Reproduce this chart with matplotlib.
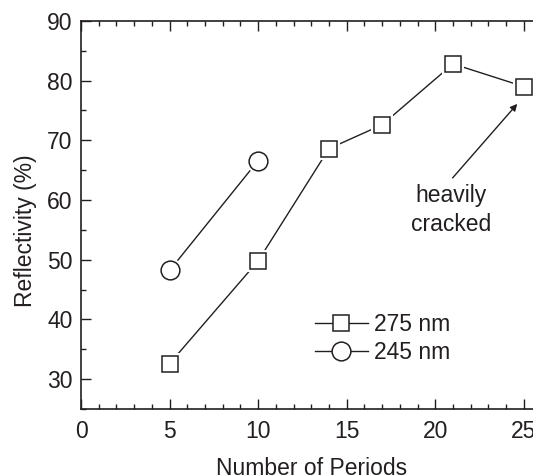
import matplotlib
matplotlib.use("Agg")
import matplotlib.pyplot as plt
from matplotlib.ticker import MultipleLocator

plt.rcParams['font.family'] = ['Liberation Sans', 'DejaVu Sans']

periods_275 = [5, 10, 14, 17, 21, 25]
refl_275 = [32.6, 49.8, 68.6, 72.6, 82.8, 79.0]
periods_245 = [5, 10]
refl_245 = [48.2, 66.6]
label_275 = "275 nm"
label_245 = "245 nm"
annot_text = "heavily\ncracked"

ink = '#231f20'
FS = 16.5
fig = plt.figure(figsize=(5.33, 4.75), dpi=100)
ax = fig.add_axes([0.152, 0.139, 0.864, 0.817])

def series(x, y, marker, ms, label):
    ax.plot(x, y, '-', color=ink, lw=1.0, zorder=1)
    ax.plot(x, y, linestyle='none', marker=marker, ms=ms + 4, mfc='white',
            mec='white', mew=0, zorder=2)
    ax.plot(x, y, linestyle='none', marker=marker, ms=ms, mfc='white',
            mec=ink, mew=1.1, zorder=3)
    ax.plot([], [], '-', color=ink, lw=1.0, marker=marker, ms=ms, mfc='white',
            mec=ink, mew=1.1, label=label)

series(periods_275, refl_275, 's', 11.5, label_275)
series(periods_245, refl_245, 'o', 13.5, label_245)

ax.set_xlim(0, 26)
ax.set_ylim(25, 90)
ax.xaxis.set_major_locator(MultipleLocator(5))
ax.xaxis.set_minor_locator(MultipleLocator(1))
ax.yaxis.set_major_locator(MultipleLocator(10))
ax.yaxis.set_minor_locator(MultipleLocator(5))
ax.set_yticks(range(30, 91, 10))
ax.tick_params(which='both', direction='in', top=True, right=False,
               colors=ink, labelsize=FS, width=1.0)
ax.tick_params(which='major', length=7)
ax.tick_params(axis='x', which='major', pad=8)
ax.tick_params(axis='y', which='major', pad=6)
ax.tick_params(which='minor', length=3.5)
for s in ax.spines.values():
    s.set_color(ink)
    s.set_linewidth(1.2)

ax.set_xlabel("Number of Periods", fontsize=FS, color=ink, labelpad=10)
ax.set_ylabel("Reflectivity (%)", fontsize=FS, color=ink)
ax.yaxis.set_label_coords(-0.0955, 0.459)

ax.annotate('', xy=(24.63, 76.1), xytext=(20.98, 63.7),
            arrowprops=dict(arrowstyle='-|>', color=ink, lw=1.0,
                            mutation_scale=10, shrinkA=0, shrinkB=0))
ax.text(20.9, 58.3, annot_text, ha='center', va='center', fontsize=FS,
        color=ink, linespacing=1.3)

leg = ax.legend(loc='upper left', bbox_to_anchor=(0.508, 0.248), frameon=False,
                fontsize=FS, handlelength=2.3, handletextpad=0.26,
                labelspacing=0.25, borderaxespad=0, borderpad=0)
for t in leg.get_texts():
    t.set_color(ink)

fig.savefig("out.png", dpi=100)
